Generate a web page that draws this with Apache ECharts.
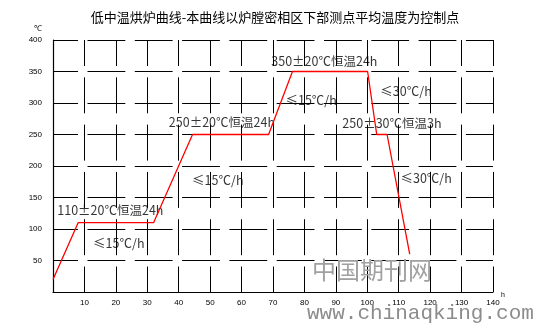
<!DOCTYPE html>
<html>
<head>
<meta charset="utf-8">
<script src="https://cdn.jsdelivr.net/npm/echarts@6/dist/echarts.min.js"></script>
<style>
html,body{margin:0;padding:0;background:#fff;}
#c{width:538px;height:328px;}
</style>
</head>
<body>
<div id="c"></div>
<script>
// Curve: time (h) vs temperature (℃)
const hours = [0, 8, 32, 44.4, 68.6, 76.2, 100.1, 103, 106.3, 113.5];
const temps = [20, 110, 110, 250, 250, 350, 350, 250, 250, 60];
// Annotation texts anchored in data units [h, ℃]
const noteX = [1.2, 12.6, 36.7, 44.1, 69.3, 73.8, 104, 91.9, 110.4];
const noteY = [129, 78, 269, 178, 367, 305, 319, 268, 180];
const noteText = ['110±20℃恒温24h', '≤15℃/h', '250±20℃恒温24h', '≤15℃/h', '350±20℃恒温24h', '≤15℃/h', '≤30℃/h', '250±30℃恒温3h', '≤30℃/h'];
const titleText = '低中温烘炉曲线-本曲线以炉膛密相区下部测点平均温度为控制点';

const chart = echarts.init(document.getElementById('c'));
const curve = hours.map((h, i) => [h, temps[i]]);
const notes = noteX.map((x, i) => [x, noteY[i], noteText[i]]);

chart.setOption({
  animation: false,
  backgroundColor: '#fff',
  title: {
    text: titleText, left: 270, top: 6, textAlign: 'center',
    textStyle: {fontFamily: 'Noto Sans CJK SC', fontSize: 13, fontWeight: 'normal', color: '#000'}
  },
  grid: {left: 53, top: 40, right: 45, bottom: 36},
  xAxis: {
    type: 'value', min: 0, max: 140, interval: 10,
    name: 'h', nameLocation: 'end', nameGap: 8,
    nameTextStyle: {fontSize: 7, color: '#000', verticalAlign: 'top', fontFamily: 'Liberation Sans'},
    axisLine: {show: true, lineStyle: {color: '#000', width: 1.2}},
    axisTick: {show: false},
    axisLabel: {showMinLabel: false, margin: 7, fontSize: 8, color: '#000', fontFamily: 'Liberation Sans'},
    splitLine: {show: true, lineStyle: {color: '#000', width: 1, type: [36, 11.3], dashOffset: 10}}
  },
  yAxis: {
    type: 'value', min: 0, max: 400, interval: 50,
    name: '℃', nameLocation: 'end', nameGap: 7,
    nameTextStyle: {fontSize: 8, color: '#000', align: 'right', padding: [0, 11, 0, 0], fontFamily: 'Liberation Sans'},
    axisLine: {show: true, lineStyle: {color: '#000', width: 1.2}},
    axisTick: {show: false},
    axisLabel: {showMinLabel: false, margin: 11, fontSize: 8, color: '#000', fontFamily: 'Liberation Sans'},
    splitLine: {show: true, lineStyle: {color: '#000', width: 1, type: [37.8, 9.5], dashOffset: 12.8}}
  },
  series: [
    {
      type: 'scatter', data: notes, symbolSize: 1, itemStyle: {color: 'rgba(0,0,0,0)'}, z: 3,
      silent: true,
      label: {
        show: true, position: 'right', distance: 0,
        formatter: p => p.data[2],
        fontFamily: 'Noto Sans CJK SC', fontSize: 12.5, color: '#000'
      }
    },
    {
      type: 'line', data: curve, showSymbol: false, symbol: 'none', z: 4,
      lineStyle: {color: '#ff0000', width: 1.3}
    }
  ],
  graphic: [
    {type: 'text', left: 312, top: 258, z: 10,
     style: {text: '中国期刊网', font: '24px "Noto Sans CJK SC"', fill: '#a0a0a0'}},
    {type: 'text', left: 307, top: 303, z: 10,
     style: {text: 'www.chinaqking.com', font: '21px "Liberation Mono"', fill: '#8c8c8c'}}
  ]
});
</script>
</body>
</html>
